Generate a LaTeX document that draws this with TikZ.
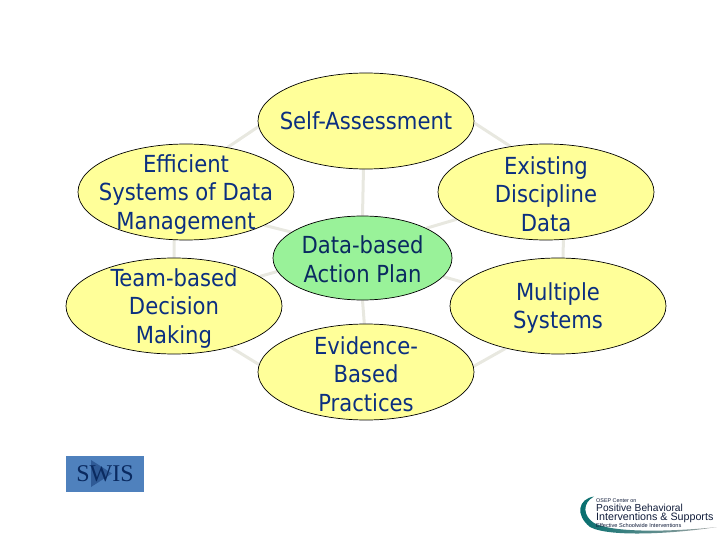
\documentclass[tikz,border=0pt]{standalone}
\usepackage{fontspec}
\setmainfont{DejaVu Sans Condensed}
\newfontfamily\serifface{Liberation Serif}
\newfontfamily\logoface{Liberation Sans}
\usetikzlibrary{shapes.geometric,backgrounds}
\definecolor{paleyellow}{HTML}{FFFF99}
\definecolor{palegreen}{HTML}{99F299}
\definecolor{navytext}{HTML}{0B2F80}
\definecolor{darknavy}{HTML}{0A2A60}
\definecolor{linkgrey}{HTML}{E8E8E0}
\definecolor{swisblue}{HTML}{4F81BD}
\definecolor{swisarrow}{HTML}{2F5A96}
\definecolor{logotext}{HTML}{101C3A}
\tikzset{
  bubble/.style={ellipse,draw=black,line width=0.7pt,fill=paleyellow,inner sep=0pt,
    minimum width=216pt,minimum height=96pt},
  hub/.style={ellipse,draw=black,line width=0.7pt,fill=palegreen,inner sep=0pt,
    minimum width=179pt,minimum height=84pt},
  txt/.style={align=center,inner sep=0pt,text=navytext,yshift=-2.2pt,
    font=\fontsize{23.5}{28.6}\selectfont},
  hubtxt/.style={txt,text=darknavy,yshift=1pt},
  link/.style={draw=linkgrey,line width=3pt},
  logoline/.style={anchor=west,inner sep=0pt,text=logotext}
}
\begin{document}
\begin{tikzpicture}[x=1pt,y=-1pt]
\useasboundingbox (0,0) rectangle (720,540);
\node[bubble,label={[txt,yshift=2.2pt]center:Self-Assessment}] (self) at (366,121) {};
\node[bubble,label={[txt]center:{Efficient\\Systems of Data\\Management}}] (eff) at (186,192) {};
\node[bubble,label={[txt]center:{Team-based\\Decision\\Making}}] (team) at (174,306) {};
\node[bubble,label={[txt]center:{Existing\\Discipline\\Data}}] (exist) at (546,192) {};
\node[bubble,label={[txt]center:{Multiple\\Systems}}] (multi) at (558,306) {};
\node[bubble,label={[txt]center:{Evidence-\\Based\\Practices}}] (evid) at (366,372) {};
\node[hub,label={[hubtxt]center:{Data-based\\Action Plan}}] (data) at (362.5,258) {};
\begin{scope}[on background layer]
\draw[link] (self.-93) -- (data.north);
\draw[link] (self.183) -- (eff.47);
\draw[link] (self.-1) -- (exist.128);
\draw[link] (eff.-104) -- (team.north);
\draw[link] (eff.-23) -- (data.160);
\draw[link] (team.19) -- (data.189);
\draw[link] (team.-36) -- (evid.176);
\draw[link] (data.south) -- (evid.92);
\draw[link] (evid.3) -- (multi.219);
\draw[link] (multi.84) -- (exist.-70);
\draw[link] (exist.197) -- (data.25);
\draw[link] (multi.166) -- (data.-13);
\end{scope}
% SWIS button
\node[fill=swisblue,minimum width=78pt,minimum height=36pt,inner sep=0pt] (swisbox) at (105,474) {};
\fill[swisarrow] (91,460) -- (112,473.5) -- (91,487) -- cycle;
\node[inner sep=0pt,text=darknavy,font=\serifface\fontsize{24}{24}\selectfont] (swis) at (105,474) {SWIS};
% logo
\shade[left color=teal!85!black,right color=black!35]
  (594,496.5) .. controls (578,499) and (575,515) .. (590,527)
  .. controls (610,538) and (680,533) .. (717,527)
  .. controls (680,531) and (615,534) .. (594,523)
  .. controls (583,516) and (582,503) .. (594,496.5) -- cycle;
\node[logoline,font=\logoface\fontsize{5.4}{5.4}\selectfont] (l1) at (596,500.5) {OSEP Center on};
\node[logoline,font=\logoface\fontsize{10.2}{10.2}\selectfont] (l2) at (596,508) {Positive Behavioral};
\node[logoline,font=\logoface\fontsize{10.7}{10.7}\selectfont] (l3) at (596,518) {Interventions \& Supports};
\node[logoline,font=\logoface\fontsize{5.6}{5.6}\selectfont] (l4) at (596,525.5) {Effective Schoolwide Interventions};
\end{tikzpicture}
\end{document}
